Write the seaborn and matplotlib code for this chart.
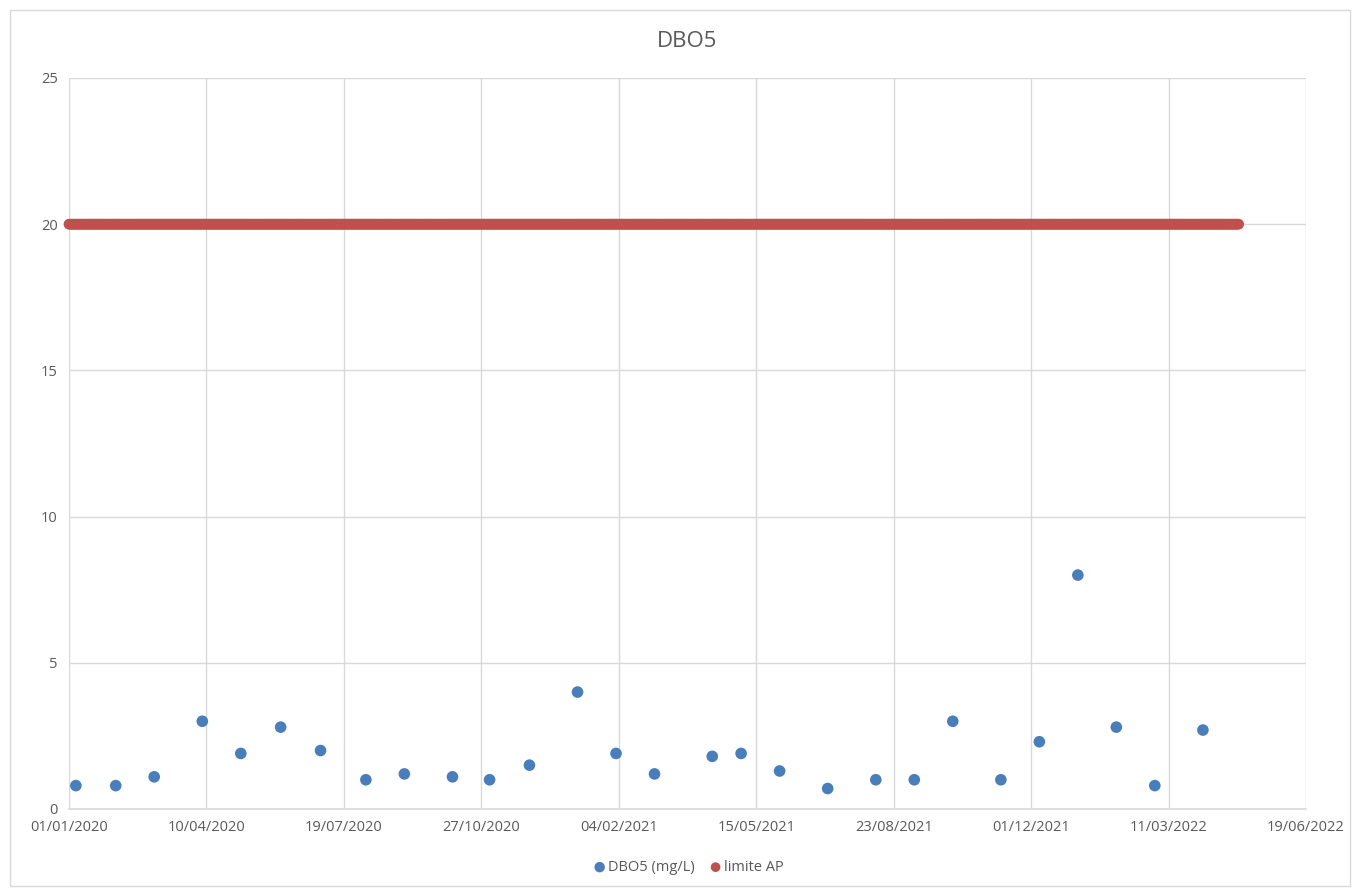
import matplotlib
matplotlib.use("Agg")
import matplotlib.pyplot as plt
import matplotlib.dates as mdates
from matplotlib.patches import Rectangle
import pandas as pd
import seaborn as sns

# Sample dates and BOD5 measurements (mg/L)
sample_dates = [
    "2020-01-06", "2020-02-04", "2020-03-03", "2020-04-07", "2020-05-05",
    "2020-06-03", "2020-07-02", "2020-08-04", "2020-09-01", "2020-10-06",
    "2020-11-02", "2020-12-01", "2021-01-05", "2021-02-02", "2021-03-02",
    "2021-04-13", "2021-05-04", "2021-06-01", "2021-07-06", "2021-08-10",
    "2021-09-07", "2021-10-05", "2021-11-09", "2021-12-07", "2022-01-04",
    "2022-02-01", "2022-03-01", "2022-04-05",
]
dbo5_values = [
    0.8, 0.8, 1.1, 3.0, 1.9, 2.8, 2.0, 1.0, 1.2, 1.1,
    1.0, 1.5, 4.0, 1.9, 1.2, 1.8, 1.9, 1.3, 0.7, 1.0,
    1.0, 3.0, 1.0, 2.3, 8.0, 2.8, 0.8, 2.7,
]

# Regulatory limit, one value per day over the monitoring period
limit_start = "2020-01-01"
limit_end = "2022-05-01"
limit_value = 20

x_ticks_start = "2020-01-01"
x_ticks_end = "2022-06-19"
y_ticks = [0, 5, 10, 15, 20, 25]

blue = "#4A7EBB"
red = "#C0504D"
grid_col = "#D9D9D9"
text_col = "#595959"

samples = pd.DataFrame({"date": pd.to_datetime(sample_dates), "value": dbo5_values})
limit_dates = pd.date_range(limit_start, limit_end, freq="D")
limit = pd.DataFrame({"date": limit_dates, "value": [limit_value] * len(limit_dates)})

sns.set_style("white")
plt.rcParams["font.family"] = ["Open Sans", "DejaVu Sans"]

fig = plt.figure(figsize=(13.58, 8.91), dpi=100)
ax = fig.add_axes([69 / 1358, 1 - 809 / 891, (1306 - 69) / 1358, (809 - 78) / 891])

sns.scatterplot(data=limit, x="date", y="value", ax=ax, color=red, s=60,
                edgecolor="none", label="limite AP", zorder=3, clip_on=False)
sns.scatterplot(data=samples, x="date", y="value", ax=ax, color=blue, s=70,
                edgecolor="none", label="DBO5 (mg/L)", zorder=4, clip_on=False)

t0 = pd.Timestamp(x_ticks_start)
t1 = pd.Timestamp(x_ticks_end)
ticks = pd.date_range(t0, t1, freq="100D")
ax.set_xlim(mdates.date2num(t0), mdates.date2num(t1))
ax.set_xticks(mdates.date2num(ticks))
ax.xaxis.set_major_formatter(mdates.DateFormatter("%d/%m/%Y"))
ax.set_ylim(0, 25)
ax.set_yticks(y_ticks)

ax.grid(True, color=grid_col, linewidth=1)
ax.set_axisbelow(True)
for side in ["top", "right", "left"]:
    ax.spines[side].set_visible(False)
ax.spines["bottom"].set_color(grid_col)
ax.spines["bottom"].set_linewidth(1.2)
ax.tick_params(axis="both", length=0, labelsize=10.5, colors=text_col, pad=8)
ax.set_xlabel("")
ax.set_ylabel("")

ax.set_title("DBO5", fontsize=16, color=text_col, pad=22)

handles, labels = ax.get_legend_handles_labels()
order = [labels.index("DBO5 (mg/L)"), labels.index("limite AP")]
ax.legend([handles[i] for i in order], [labels[i] for i in order],
          loc="center", bbox_to_anchor=(0.5, -0.08), ncol=2, frameon=False,
          fontsize=10.5, labelcolor=text_col, handletextpad=0.0,
          handlelength=1.2, columnspacing=0.8, markerscale=0.9)

# Chart area border
fig.patches.append(Rectangle((10 / 1358, 1 - 886 / 891), 1340 / 1358, 876 / 891,
                             transform=fig.transFigure, fill=False,
                             edgecolor=grid_col, linewidth=1))

fig.savefig("out.png", dpi=100)
